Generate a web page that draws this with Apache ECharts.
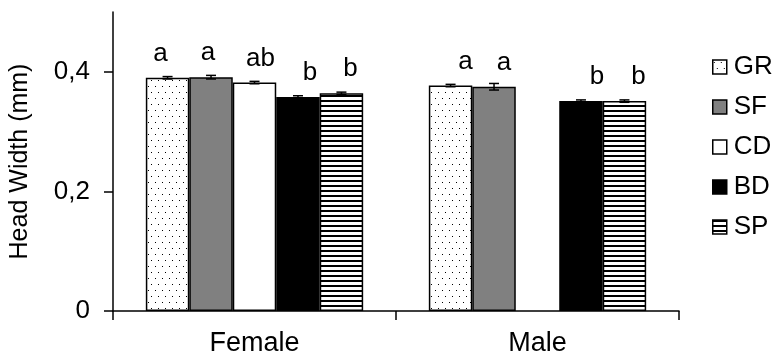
<!DOCTYPE html>
<html>
<head>
<meta charset="utf-8">
<script src="https://cdn.jsdelivr.net/npm/echarts@6/dist/echarts.min.js"></script>
<style>
html,body{margin:0;padding:0;background:#fff;}
#chart{width:779px;height:358px;}
</style>
</head>
<body>
<div id="chart"></div>
<script>
// ---- data ----
var categories = ['Female', 'Male'];
var seriesNames = ['GR', 'SF', 'CD', 'BD', 'SP'];
var valuesGR = [0.390, 0.377];
var valuesSF = [0.391, 0.375];
var valuesCD = [0.382, null];
var valuesBD = [0.358, 0.351];
var valuesSP = [0.364, 0.351];
var errGR = [0.002, 0.002];
var errSF = [0.003, 0.0055];
var errCD = [0.002, null];
var errBD = [0.002, 0.002];
var errSP = [0.002, 0.002];
var lettersGR = ['a', 'a'];
var lettersSF = ['a', 'a'];
var lettersCD = ['ab', ''];
var lettersBD = ['b', 'b'];
var lettersSP = ['b', 'b'];
var yTicks = [0, 0.2, 0.4];

var values = [valuesGR, valuesSF, valuesCD, valuesBD, valuesSP];
var errors = [errGR, errSF, errCD, errBD, errSP];
var letters = [lettersGR, lettersSF, lettersCD, lettersBD, lettersSP];

// ---- styling ----
var FONT = 'Liberation Sans, Arial, sans-serif';
var letterShift = [[-7, 15], [-3, 10], [6, 0], [12, 16], [9, 14]];
var GAP = 0.232;

function dotPattern() {
  var c = document.createElement('canvas');
  c.width = 7; c.height = 12;
  var g = c.getContext('2d');
  g.fillStyle = '#fff'; g.fillRect(0, 0, 7, 12);
  g.fillStyle = '#000';
  g.fillRect(1, 2, 1, 1);
  g.fillRect(4, 8, 1, 1);
  return {image: c, repeat: 'repeat'};
}
function stripePattern() {
  var c = document.createElement('canvas');
  c.width = 8; c.height = 5;
  var g = c.getContext('2d');
  g.fillStyle = '#fff'; g.fillRect(0, 0, 8, 5);
  g.fillStyle = '#000'; g.fillRect(0, 0, 8, 2);
  return {image: c, repeat: 'repeat'};
}
var fills = [dotPattern(), '#808080', '#ffffff', '#000000', stripePattern()];

var chart = echarts.init(document.getElementById('chart'), null, {renderer: 'canvas'});

var series = [];
seriesNames.forEach(function (name, si) {
  series.push({
    name: name,
    type: 'bar',
    barGap: '0%',
    barCategoryGap: (GAP * 100) + '%',
    itemStyle: {color: fills[si], borderColor: '#000', borderWidth: 1.5},
    label: {
      show: true,
      position: 'top',
      distance: 11,
      color: '#000',
      fontFamily: FONT,
      fontSize: 26,
      formatter: function (p) { return letters[si][p.dataIndex] || ''; }
    },
    data: values[si].map(function (v, ci) {
      return {value: v, label: {offset: [letterShift[si][ci], 0]}};
    }),
    z: 2
  });
});

// error bars
var errData = [];
seriesNames.forEach(function (name, si) {
  values[si].forEach(function (v, ci) {
    if (v != null && errors[si][ci] != null) errData.push([ci, si, v, errors[si][ci]]);
  });
});
series.push({
  type: 'custom',
  name: 'err',
  z: 5,
  silent: true,
  encode: {x: 0, y: 2},
  data: errData,
  renderItem: function (params, api) {
    var ci = api.value(0), si = api.value(1), v = api.value(2), e = api.value(3);
    var center = api.coord([ci, v]);
    var catW = api.size([1, 0])[0];
    var barW = catW * (1 - GAP) / 5;
    var x = center[0] + (si - 2) * barW;
    var yHi = api.coord([ci, v + e])[1];
    var yLo = api.coord([ci, v - e])[1];
    var hw = 5;
    var st = {stroke: '#000', lineWidth: 1.5};
    return {
      type: 'group',
      children: [
        {type: 'line', shape: {x1: x, y1: yHi, x2: x, y2: yLo}, style: st},
        {type: 'line', shape: {x1: x - hw, y1: yHi, x2: x + hw, y2: yHi}, style: st},
        {type: 'line', shape: {x1: x - hw, y1: yLo, x2: x + hw, y2: yLo}, style: st}
      ]
    };
  }
});

chart.setOption({
  animation: false,
  backgroundColor: '#fff',
  grid: {left: 109, right: 100, top: 12, bottom: 47, containLabel: false},
  legend: {
    data: seriesNames,
    orient: 'vertical',
    left: 712,
    top: 54,
    padding: 0,
    icon: 'rect',
    itemWidth: 14,
    itemHeight: 14,
    itemGap: 14,
    itemStyle: {borderColor: '#000', borderWidth: 1.5},
    textStyle: {fontFamily: FONT, fontSize: 26, color: '#000', padding: [0, 0, 0, 2]}
  },
  xAxis: {
    type: 'category',
    data: categories,
    boundaryGap: true,
    axisLine: {lineStyle: {color: '#000', width: 1.5}},
    axisTick: {show: true, length: 9, alignWithLabel: false, lineStyle: {color: '#000', width: 1.5}},
    axisLabel: {color: '#000', fontFamily: FONT, fontSize: 27, margin: 19}
  },
  yAxis: {
    type: 'value',
    min: 0,
    max: 0.5,
    interval: 0.1,
    name: 'Head Width (mm)',
    nameLocation: 'middle',
    nameRotate: 90,
    nameGap: 80,
    nameTextStyle: {color: '#000', fontFamily: FONT, fontSize: 25},
    splitLine: {show: false},
    axisLine: {show: true, lineStyle: {color: '#000', width: 1.5}},
    axisTick: {show: true, length: 9, lineStyle: {color: '#000', width: 1.5}, customValues: yTicks},
    axisLabel: {
      color: '#000', fontFamily: FONT, fontSize: 26, margin: 23,
      customValues: yTicks,
      formatter: function (v) { return String(v).replace('.', ','); }
    }
  },
  series: series
});
</script>
</body>
</html>
